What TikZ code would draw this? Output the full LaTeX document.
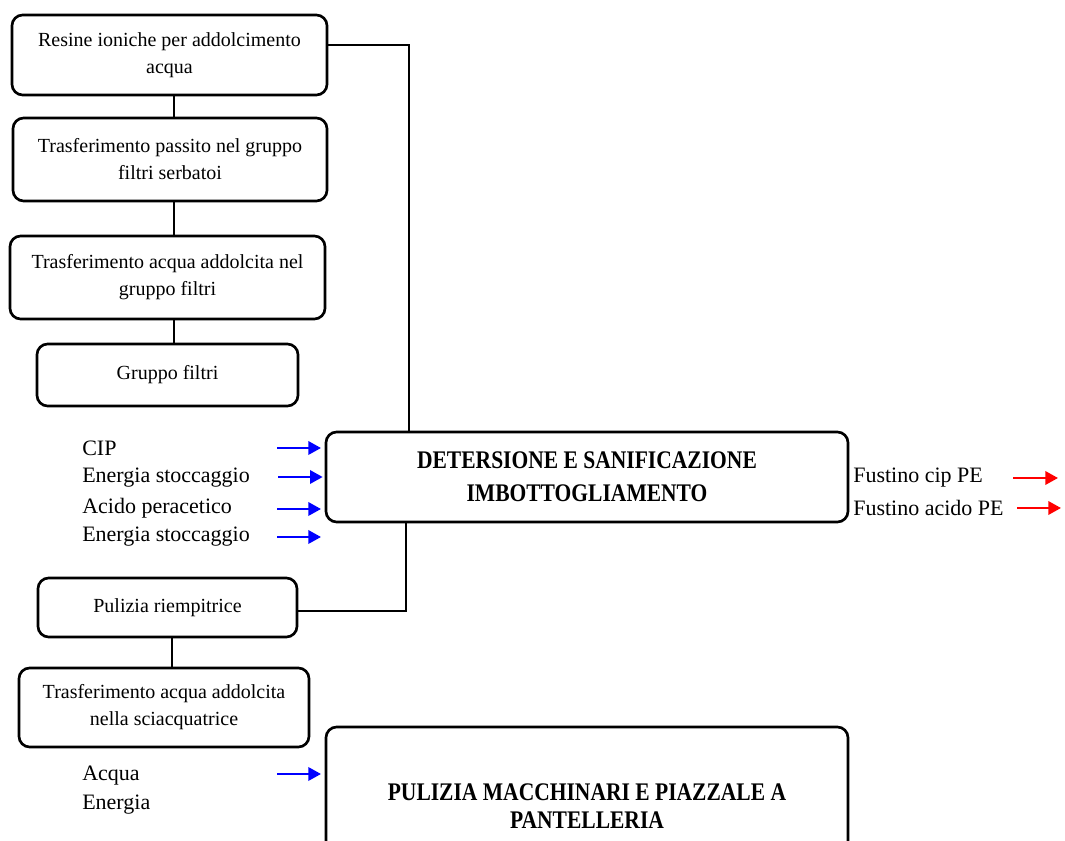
\documentclass[tikz,border=0pt]{standalone}
\usepackage{fontspec}
\setmainfont{Liberation Serif}
\newfontfamily\bcond[FakeStretch=0.85]{Liberation Serif Bold}
\usetikzlibrary{arrows.meta}
\begin{document}
\begin{tikzpicture}[x=0.75pt,y=-0.75pt,
  stepbox/.style={draw,line width=2pt,rounded corners=8pt,inner sep=0pt,outer sep=0pt,
    align=center,font=\fontsize{15}{20.25}\selectfont},
  bigbox/.style={stepbox,font=\bcond\fontsize{19}{25}\selectfont},
  lbl/.style={anchor=west,inner sep=0pt,font=\fontsize{16.5}{20}\selectfont},
  link/.style={line width=1pt},
  inarrow/.style={line width=1.8pt,blue,-{Triangle[length=9.5pt,width=10pt]}},
  outarrow/.style={line width=1.8pt,red,-{Triangle[length=9.5pt,width=10pt]}}]
\useasboundingbox (0,0) rectangle (1065,841);
\clip (0,0) rectangle (1065,841);

% left column of steps
\node[stepbox,minimum width=236.25pt,minimum height=60pt] (b1) at (169.5,55)
  {Resine ioniche per addolcimento\\acqua};
\node[stepbox,minimum width=235.5pt,minimum height=62.25pt] (b2) at (170,159.5)
  {Trasferimento passito nel gruppo\\filtri serbatoi};
\node[stepbox,minimum width=236.25pt,minimum height=62.25pt] (b3) at (167.5,277.5)
  {Trasferimento acqua addolcita nel\\gruppo filtri};
\node[stepbox,minimum width=195.75pt,minimum height=46.5pt] (b4) at (167.5,375)
  {Gruppo filtri};
\node[stepbox,minimum width=194.25pt,minimum height=44.25pt] (pr) at (167.5,607.5)
  {Pulizia riempitrice};
\node[stepbox,minimum width=217.5pt,minimum height=59.25pt] (ts) at (164,707.5)
  {Trasferimento acqua addolcita\\nella sciacquatrice};

% main phases
\node[bigbox,minimum width=391.5pt,minimum height=67.5pt] (det) at (587,477)
  {DETERSIONE E SANIFICAZIONE\\IMBOTTOGLIAMENTO};
\node[bigbox,minimum width=391.5pt,minimum height=118.5pt,font=\bcond\fontsize{19}{21.5}\selectfont] (pul) at (587,806)
  {PULIZIA MACCHINARI E PIAZZALE A\\PANTELLERIA};

% connectors
\draw[link] ([xshift=3.4pt]b1.south) -- ([xshift=3.4pt]b1.south |- b2.north);
\draw[link] ([xshift=3pt]b2.south) -- ([xshift=3pt]b2.south |- b3.north);
\draw[link] ([xshift=4.9pt]b3.south) -- ([xshift=4.9pt]b3.south |- b4.north);
\draw[link] ([yshift=7.5pt]b1.east) -| ([xshift=-133.5pt]det.north);
\draw[link] ([xshift=-135.75pt]det.south) |- ([yshift=-2.6pt]pr.east);
\draw[link] ([xshift=3.4pt]pr.south) -- ([xshift=3.4pt]pr.south |- ts.north);

% inputs
\node[lbl] (cip) at (82,448) {CIP};
\node[lbl] (es1) at (82,478) {Energia stoccaggio};
\node[lbl] (ap) at (82,508) {Acido peracetico};
\node[lbl] (es2) at (82,537) {Energia stoccaggio};
\node[lbl] (acq) at (82,776) {Acqua};
\node[lbl] (en) at (82,805) {Energia};

\coordinate (t1) at (277,448);
\coordinate (t2) at (278,477);
\coordinate (t3) at (277,509);
\coordinate (t4) at (277,537);
\coordinate (t5) at (277,774);
\draw[inarrow] (t1) -- ([xshift=-3.75pt]det.west |- t1);
\draw[inarrow] (t2) -- ([xshift=-2.5pt]det.west |- t2);
\draw[inarrow] (t3) -- ([xshift=-3.75pt]det.west |- t3);
\draw[inarrow] (t4) -- ([xshift=-3.75pt]det.west |- t4);
\draw[inarrow] (t5) -- ([xshift=-3.75pt]pul.west |- t5);

% outputs
\node[lbl] (fc) at (853,478) {Fustino cip PE};
\node[lbl] (fa) at (853,508) {Fustino acido PE};
\coordinate (r1a) at (1013,478);
\coordinate (r1b) at (1058,478);
\coordinate (r2a) at (1017,508);
\coordinate (r2b) at (1061,508);
\draw[outarrow] (r1a) -- (r1b);
\draw[outarrow] (r2a) -- (r2b);
\end{tikzpicture}
\end{document}
